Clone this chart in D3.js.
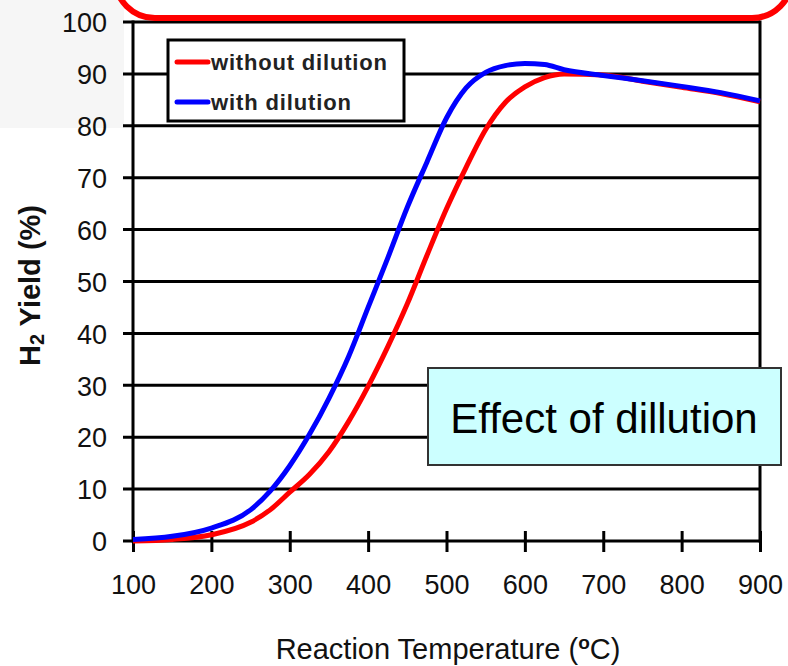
<!DOCTYPE html>
<html>
<head>
<meta charset="utf-8">
<script src="https://cdn.jsdelivr.net/npm/d3@7"></script>
<style>
  body { margin: 0; background: #fff; }
  text { font-family: "Liberation Sans", Arial, sans-serif; }
</style>
</head>
<body>
<div id="grafico"></div>
<script>
// datos
const temperaturas = [100, 150, 200, 250, 275, 300, 325, 350, 375, 400, 425, 450, 475, 500, 525, 550, 575, 600, 625, 650, 700, 750, 800, 850, 900];
const sinDilucion = [0, 0.3, 1.2, 3.6, 6.0, 9.4, 12.8, 17.2, 23, 29.8, 37.4, 45.7, 55, 64, 72, 79.3, 84.5, 87.5, 89.3, 90, 89.8, 88.6, 87.4, 86.2, 84.6];
const conDilucion = [0.3, 0.9, 2.5, 6.0, 9.6, 14.5, 20.5, 27.5, 35.5, 45, 54.5, 64.3, 73, 81.5, 87.3, 90.3, 91.6, 92, 91.8, 90.8, 89.7, 88.7, 87.6, 86.4, 84.8];
const ticksX = [100, 200, 300, 400, 500, 600, 700, 800, 900];
const ticksY = [0, 10, 20, 30, 40, 50, 60, 70, 80, 90, 100];
const series = [
  { nombre: "without dilution", color: "#ff0000", valores: sinDilucion, largo: 176 },
  { nombre: "with dilution", color: "#0000ff", valores: conDilucion, largo: 140 }
];

const width = 788;
const height = 666;
const margen = { left: 133, right: 28, top: 22, bottom: 125 };

const svg = d3.select("#grafico").append("svg")
  .attr("width", width)
  .attr("height", height);

// fondo gris suave arriba a la izquierda
svg.append("rect").attr("x", 0).attr("y", 0).attr("width", 124).attr("height", 128).attr("fill", "#f6f6f6");

const x = d3.scaleLinear().domain([100, 900]).range([margen.left, width - margen.right]);
const y = d3.scaleLinear().domain([0, 100]).range([height - margen.bottom, margen.top]);

// lineas de rejilla horizontales
svg.append("g")
  .selectAll("line")
  .data(ticksY)
  .join("line")
  .attr("x1", x(100) - 10).attr("x2", x(900))
  .attr("y1", d => y(d)).attr("y2", d => y(d))
  .attr("stroke", "#000").attr("stroke-width", 3);

// ejes izquierdo y derecho
[100, 900].forEach(v => {
  svg.append("line")
    .attr("x1", x(v)).attr("x2", x(v))
    .attr("y1", y(100) - 1.5).attr("y2", y(0) + 1.5)
    .attr("stroke", "#000").attr("stroke-width", 3);
});

// ticks del eje x
const ejeX = d3.axisBottom(x).tickValues(ticksX).tickSize(0).tickFormat(d3.format("d"));
const gX = svg.append("g").attr("transform", `translate(0,${y(0)})`).call(ejeX);
gX.select(".domain").remove();
gX.selectAll(".tick line").remove();
gX.selectAll(".tick").append("line")
  .attr("y1", -10).attr("y2", 11)
  .attr("stroke", "#000").attr("stroke-width", 3);
gX.selectAll(".tick text")
  .attr("y", 53).attr("dy", 0)
  .attr("fill", "#111")
  .style("font-size", "27px");

// etiquetas del eje y
const ejeY = d3.axisLeft(y).tickValues(ticksY).tickSize(0).tickPadding(26);
const gY = svg.append("g").attr("transform", `translate(${x(100)},0)`).call(ejeY);
gY.select(".domain").remove();
gY.selectAll(".tick text")
  .attr("dy", "0.36em")
  .attr("fill", "#111")
  .style("font-size", "27px");

// curvas
const linea = d3.line()
  .x((d, i) => x(temperaturas[i]))
  .y(d => y(d))
  .curve(d3.curveMonotoneX);

svg.append("g")
  .selectAll("path")
  .data(series)
  .join("path")
  .attr("d", d => linea(d.valores))
  .attr("fill", "none")
  .attr("stroke", d => d.color)
  .attr("stroke-width", 5)
  .attr("stroke-linejoin", "round");

// leyenda
const leyenda = svg.append("g").attr("transform", "translate(168,40)");
leyenda.append("rect")
  .attr("width", 236).attr("height", 81)
  .attr("fill", "#fff").attr("stroke", "#000").attr("stroke-width", 3);
series.forEach((s, i) => {
  const yy = 22 + i * 40;
  leyenda.append("line")
    .attr("x1", 9).attr("x2", 40)
    .attr("y1", yy).attr("y2", yy)
    .attr("stroke", s.color).attr("stroke-width", 5).attr("stroke-linecap", "round");
  leyenda.append("text")
    .attr("x", 43).attr("y", yy + 8)
    .attr("fill", "#222")
    .attr("textLength", s.largo)
    .style("font-size", "22px")
    .style("font-weight", "bold")
    .text(s.nombre);
});

// titulos de ejes
svg.append("text")
  .attr("transform", `translate(40,${(y(0) + y(100)) / 2 + 4}) rotate(-90)`)
  .attr("text-anchor", "middle")
  .style("font-size", "29px")
  .style("font-weight", "bold")
  .attr("fill", "#111")
  .html('H<tspan font-size="20px" dy="4">2</tspan><tspan dy="-4"> Yield (%)</tspan>');

svg.append("text")
  .attr("x", 448).attr("y", 659)
  .attr("text-anchor", "middle")
  .style("font-size", "29px")
  .attr("fill", "#111")
  .html('Reaction Temperature (<tspan font-size="19px" dy="-10" font-weight="bold">o</tspan><tspan dy="10">C)</tspan>');

// cuadro de anotacion
svg.append("rect")
  .attr("x", 428).attr("y", 368)
  .attr("width", 353).attr("height", 97)
  .attr("fill", "#ccffff").attr("stroke", "#333").attr("stroke-width", 2);
svg.append("text")
  .attr("x", 604).attr("y", 433)
  .attr("text-anchor", "middle")
  .style("font-size", "42px")
  .attr("fill", "#000")
  .text("Effect of dillution");

// marco rojo redondeado arriba
svg.append("rect")
  .attr("x", 115).attr("y", -120)
  .attr("width", 677).attr("height", 138)
  .attr("rx", 40).attr("ry", 40)
  .attr("fill", "none").attr("stroke", "#ff0000").attr("stroke-width", 6);
</script>
</body>
</html>
